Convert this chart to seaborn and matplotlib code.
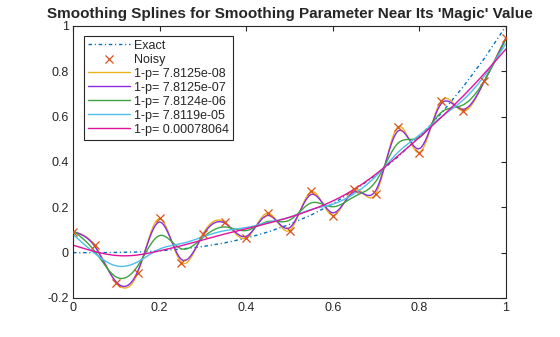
import numpy as np
import pandas as pd
import matplotlib
matplotlib.use("Agg")
import matplotlib.pyplot as plt
import seaborn as sns

# ---- data ----
x_pts = [0.00, 0.05, 0.10, 0.15, 0.20, 0.25, 0.30, 0.35, 0.40, 0.45, 0.50,
         0.55, 0.60, 0.65, 0.70, 0.75, 0.80, 0.85, 0.90, 0.95, 1.00]
y_noisy = [0.092, 0.033, -0.132, -0.088, 0.152, -0.044, 0.082, 0.135, 0.063, 0.176, 0.096,
           0.271, 0.163, 0.282, 0.260, 0.556, 0.440, 0.671, 0.624, 0.758, 0.948]
y_exact = [0.000, 0.0001, 0.001, 0.003, 0.008, 0.016, 0.027, 0.043, 0.064, 0.091, 0.125,
           0.166, 0.216, 0.275, 0.343, 0.422, 0.512, 0.614, 0.729, 0.857, 1.000]
one_minus_p = [7.8125e-08, 7.8125e-07, 7.8124e-06, 7.8119e-05, 0.00078064]
spline_labels = ["1-p= 7.8125e-08", "1-p= 7.8125e-07", "1-p= 7.8124e-06",
                 "1-p= 7.8119e-05", "1-p= 0.00078064"]
spline_colors = ["#EDB120", "#8A2BE2", "#3FA33F", "#4DBEEE", "#E0119D"]
x_ticks = [0, 0.2, 0.4, 0.6, 0.8, 1]
x_ticklabels = ["0", "0.2", "0.4", "0.6", "0.8", "1"]
y_ticks = [-0.2, 0, 0.2, 0.4, 0.6, 0.8, 1]
y_ticklabels = ["-0.2", "0", "0.2", "0.4", "0.6", "0.8", "1"]
title = "Smoothing Splines for Smoothing Parameter Near Its 'Magic' Value"


def smoothing_spline(x, y, omp, xx):
    """Cubic smoothing spline (csaps convention: p*sum|y-f|^2 + (1-p)*int f''^2)."""
    x = np.asarray(x, float); y = np.asarray(y, float)
    n = len(x); h = np.diff(x); p = 1.0 - omp
    Q = np.zeros((n, n - 2)); R = np.zeros((n - 2, n - 2))
    for j in range(1, n - 1):
        Q[j - 1, j - 1] = 1 / h[j - 1]
        Q[j, j - 1] = -1 / h[j - 1] - 1 / h[j]
        Q[j + 1, j - 1] = 1 / h[j]
        R[j - 1, j - 1] = (h[j - 1] + h[j]) / 3
        if j < n - 2:
            R[j - 1, j] = h[j] / 6
            R[j, j - 1] = h[j] / 6
    K = Q @ np.linalg.solve(R, Q.T)
    a = np.linalg.solve(p * np.eye(n) + (1 - p) * K, p * y)
    g = np.linalg.solve(R, Q.T @ a)
    M = np.concatenate([[0.0], g, [0.0]])
    idx = np.clip(np.searchsorted(x, xx) - 1, 0, n - 2)
    x0 = x[idx]; x1 = x[idx + 1]; hh = h[idx]
    return (M[idx] * (x1 - xx) ** 3 / (6 * hh) + M[idx + 1] * (xx - x0) ** 3 / (6 * hh)
            + (a[idx] / hh - M[idx] * hh / 6) * (x1 - xx)
            + (a[idx + 1] / hh - M[idx + 1] * hh / 6) * (xx - x0))


sns.set_style("white")
plt.rcParams["font.family"] = ["Liberation Sans", "DejaVu Sans"]
plt.rcParams["xtick.direction"] = "in"
plt.rcParams["ytick.direction"] = "in"

fig = plt.figure(figsize=(5.6, 3.37), dpi=100)
ax = fig.add_axes([73 / 560, 1 - 298 / 337, (506 - 73) / 560, (298 - 26) / 337])

sns.lineplot(x=x_pts, y=y_exact, ax=ax, color="#0072BD", lw=1.0,
             linestyle=(0, (2.5, 2, 0.8, 2)), label="Exact")
sns.scatterplot(x=x_pts, y=y_noisy, ax=ax, marker="x", color="#D95319",
                s=34, linewidth=0.9, label="Noisy", zorder=5)

xx = np.linspace(0, 1, 801)
for omp, lab, col in zip(one_minus_p, spline_labels, spline_colors):
    yy = smoothing_spline(x_pts, y_noisy, omp, xx)
    sns.lineplot(x=xx, y=yy, ax=ax, color=col, lw=1.0, label=lab)

ax.set_xlim(0, 1)
ax.set_ylim(-0.2, 1)
ax.set_xticks(x_ticks)
ax.set_xticklabels(x_ticklabels)
ax.set_yticks(y_ticks)
ax.set_yticklabels(y_ticklabels)
ax.tick_params(axis="both", which="both", labelsize=9, length=3.5, width=0.8,
               top=True, right=True, colors="#262626", pad=3)
for s in ax.spines.values():
    s.set_color("#262626")
    s.set_linewidth(0.8)
ax.set_xlabel("")
ax.set_ylabel("")
ax.set_title(title, fontsize=11, fontweight="bold", pad=6)

leg = ax.legend(loc="upper left", bbox_to_anchor=(11 / 433, 1 - 10 / 272),
                borderaxespad=0, fontsize=9, frameon=True, fancybox=False,
                edgecolor="#262626", framealpha=1, handlelength=3.4,
                handletextpad=0.3, labelspacing=0.16, borderpad=0.3)
leg.get_frame().set_linewidth(0.8)

fig.savefig("out.png", dpi=100)
